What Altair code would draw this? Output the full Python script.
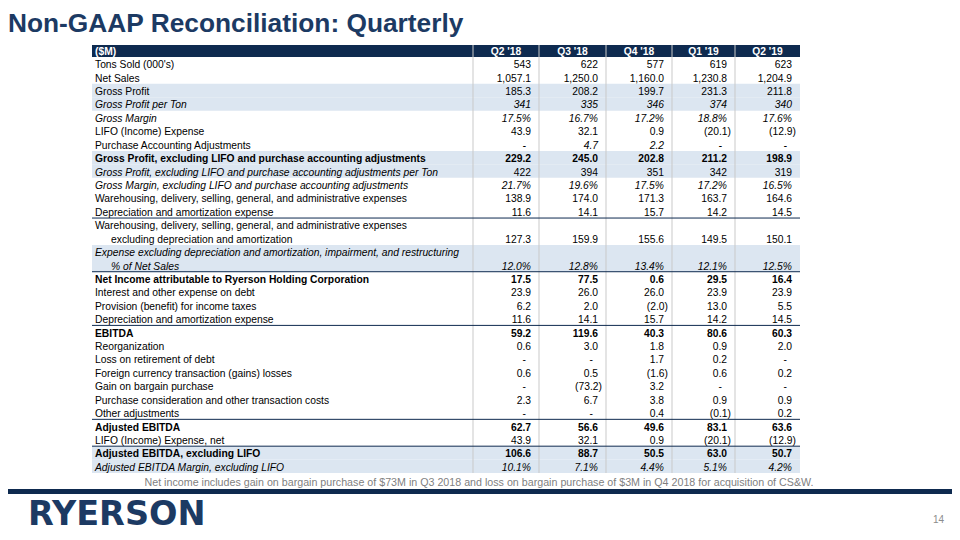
import altair as alt
import pandas as pd

# ---------------- data ----------------
title_text = "Non-GAAP Reconciliation: Quarterly"
unit_label = "($M)"
quarters = ["Q2 '18", "Q3 '18", "Q4 '18", "Q1 '19", "Q2 '19"]

row_labels = [
    ["Tons Sold (000's)"],
    ["Net Sales"],
    ["Gross Profit"],
    ["Gross Profit per Ton"],
    ["Gross Margin"],
    ["LIFO (Income) Expense"],
    ["Purchase Accounting Adjustments"],
    ["Gross Profit, excluding LIFO and purchase accounting adjustments"],
    ["Gross Profit, excluding LIFO and purchase accounting adjustments per Ton"],
    ["Gross Margin, excluding LIFO and purchase accounting adjustments"],
    ["Warehousing, delivery, selling, general, and administrative expenses"],
    ["Depreciation and amortization expense"],
    ["Warehousing, delivery, selling, general, and administrative expenses",
     "excluding depreciation and amortization"],
    ["Expense excluding depreciation and amortization, impairment, and restructuring",
     "% of Net Sales"],
    ["Net Income attributable to Ryerson Holding Corporation"],
    ["Interest and other expense on debt"],
    ["Provision (benefit) for income taxes"],
    ["Depreciation and amortization expense"],
    ["EBITDA"],
    ["Reorganization"],
    ["Loss on retirement of debt"],
    ["Foreign currency transaction (gains) losses"],
    ["Gain on bargain purchase"],
    ["Purchase consideration and other transaction costs"],
    ["Other adjustments"],
    ["Adjusted EBITDA"],
    ["LIFO (Income) Expense, net"],
    ["Adjusted EBITDA, excluding LIFO"],
    ["Adjusted EBITDA Margin, excluding LIFO"],
]
# n = normal, b = bold, i = italic
label_style = ["n", "n", "n", "i", "i", "n", "n", "b", "i", "i", "n", "n", "n", "i",
               "b", "n", "n", "n", "b", "n", "n", "n", "n", "n", "n", "b", "n", "b", "i"]
value_style = ["n", "n", "n", "i", "i", "n", "i", "b", "n", "i", "n", "n", "n", "i",
               "b", "n", "n", "n", "b", "n", "n", "n", "n", "n", "n", "b", "n", "b", "i"]
shaded_rows = [2, 3, 7, 8, 13, 27, 28]
rule_after_rows = [11, 13, 17, 24, 26]

q2_18 = ["543", "1,057.1", "185.3", "341", "17.5%", "43.9", "-", "229.2", "422", "21.7%",
         "138.9", "11.6", "127.3", "12.0%", "17.5", "23.9", "6.2", "11.6", "59.2", "0.6",
         "-", "0.6", "-", "2.3", "-", "62.7", "43.9", "106.6", "10.1%"]
q3_18 = ["622", "1,250.0", "208.2", "335", "16.7%", "32.1", "4.7", "245.0", "394", "19.6%",
         "174.0", "14.1", "159.9", "12.8%", "77.5", "26.0", "2.0", "14.1", "119.6", "3.0",
         "-", "0.5", "(73.2)", "6.7", "-", "56.6", "32.1", "88.7", "7.1%"]
q4_18 = ["577", "1,160.0", "199.7", "346", "17.2%", "0.9", "2.2", "202.8", "351", "17.5%",
         "171.3", "15.7", "155.6", "13.4%", "0.6", "26.0", "(2.0)", "15.7", "40.3", "1.8",
         "1.7", "(1.6)", "3.2", "3.8", "0.4", "49.6", "0.9", "50.5", "4.4%"]
q1_19 = ["619", "1,230.8", "231.3", "374", "18.8%", "(20.1)", "-", "211.2", "342", "17.2%",
         "163.7", "14.2", "149.5", "12.1%", "29.5", "23.9", "13.0", "14.2", "80.6", "0.9",
         "0.2", "0.6", "-", "0.9", "(0.1)", "83.1", "(20.1)", "63.0", "5.1%"]
q2_19 = ["623", "1,204.9", "211.8", "340", "17.6%", "(12.9)", "-", "198.9", "319", "16.5%",
         "164.6", "14.5", "150.1", "12.5%", "16.4", "23.9", "5.5", "14.5", "60.3", "2.0",
         "-", "0.2", "-", "0.9", "0.2", "63.6", "(12.9)", "50.7", "4.2%"]
columns = [q2_18, q3_18, q4_18, q1_19, q2_19]

footnote = ("Net income includes gain on bargain purchase of $73M in Q3 2018 and loss on "
            "bargain purchase of $3M in Q4 2018 for acquisition of CS&W.")
logo_text = "RYERSON"
page_number = "14"

# ---------------- layout (style) ----------------
W, H = 944, 524
FONT = "Liberation Sans"
NAVY = "#0E2A4F"
TITLE_NAVY = "#1C3A63"
SHADE = "#DCE6F1"
GRID = "#C9C9C9"
TABLE_LEFT = 92
COL_EDGES = [473, 539, 606, 672, 735, 800]
HEAD_TOP, HEAD_BOTTOM = 45, 57
UNIT = 13.42
FS = 10.3
TEXT_DY = 1.5

xs = alt.Scale(domain=[8, 8 + W], nice=False, zero=False)
ys = alt.Scale(domain=[8, 8 + H], nice=False, zero=False, reverse=True)
X = lambda f: alt.X(f, type="quantitative", scale=xs, axis=None)
Y = lambda f: alt.Y(f, type="quantitative", scale=ys, axis=None)

# row geometry
rows = []
top = HEAD_BOTTOM
for i, lab in enumerate(row_labels):
    n = len(lab)
    rows.append({"i": i, "top": top, "bottom": top + n * UNIT, "n": n})
    top += n * UNIT
TABLE_BOTTOM = top

label_recs, value_recs = [], []
for r in rows:
    i = r["i"]
    lab = row_labels[i]
    for k, line in enumerate(lab):
        label_recs.append({"x": TABLE_LEFT + 3 + (16 if k > 0 else 0),
                           "y": r["top"] + (k + 0.5) * UNIT + TEXT_DY,
                           "t": line, "s": label_style[i]})
    vy = r["top"] + (r["n"] - 0.5) * UNIT + TEXT_DY
    for j, col in enumerate(columns):
        v = col[i]
        right = COL_EDGES[j + 1]
        if v.endswith(")"):
            x = right - 4
        elif v == "-":
            x = right - 13
        else:
            x = right - 8
        value_recs.append({"x": x, "y": vy, "t": v, "s": value_style[i]})
labels_df = pd.DataFrame(label_recs)
values_df = pd.DataFrame(value_recs)


def text_layer(df, style, align, color="#000000", size=FS):
    sub = df[df["s"] == style]
    kw = dict(align=align, baseline="middle", font=FONT, fontSize=size, color=color)
    if style == "b":
        kw["fontWeight"] = "bold"
    if style == "i":
        kw["fontStyle"] = "italic"
    return alt.Chart(sub).mark_text(**kw).encode(x=X("x"), y=Y("y"), text="t:N")


layers = []

# shaded rows
shade_df = pd.DataFrame([{"x": TABLE_LEFT, "x2": COL_EDGES[-1],
                          "y": rows[i]["top"], "y2": rows[i]["bottom"]} for i in shaded_rows])
layers.append(alt.Chart(shade_df).mark_rect(color=SHADE).encode(
    x=X("x"), x2="x2", y=Y("y"), y2="y2"))

# header band
head_df = pd.DataFrame([{"x": TABLE_LEFT, "x2": COL_EDGES[-1], "y": HEAD_TOP, "y2": HEAD_BOTTOM}])
layers.append(alt.Chart(head_df).mark_rect(color=NAVY).encode(
    x=X("x"), x2="x2", y=Y("y"), y2="y2"))

# vertical separators
vsep_df = pd.DataFrame([{"x": e, "y": HEAD_TOP, "y2": TABLE_BOTTOM} for e in COL_EDGES[:-1]])
layers.append(alt.Chart(vsep_df).mark_rule(color=GRID, strokeWidth=1).encode(
    x=X("x"), y=Y("y"), y2="y2"))

# horizontal rules
hr_df = pd.DataFrame([{"x": TABLE_LEFT, "x2": COL_EDGES[-1], "y": rows[i]["bottom"]}
                      for i in rule_after_rows])
layers.append(alt.Chart(hr_df).mark_rule(color=NAVY, strokeWidth=1).encode(
    x=X("x"), x2="x2", y=Y("y")))

# header texts
hdr_left = pd.DataFrame([{"x": TABLE_LEFT + 3, "y": (HEAD_TOP + HEAD_BOTTOM) / 2 + 1, "t": unit_label}])
layers.append(alt.Chart(hdr_left).mark_text(align="left", baseline="middle", font=FONT,
                                            fontSize=FS, fontWeight="bold", color="white").encode(
    x=X("x"), y=Y("y"), text="t:N"))
hdr_q = pd.DataFrame([{"x": (COL_EDGES[j] + COL_EDGES[j + 1]) / 2,
                       "y": (HEAD_TOP + HEAD_BOTTOM) / 2 + 1, "t": q} for j, q in enumerate(quarters)])
layers.append(alt.Chart(hdr_q).mark_text(align="center", baseline="middle", font=FONT,
                                         fontSize=FS, fontWeight="bold", color="white").encode(
    x=X("x"), y=Y("y"), text="t:N"))

# body text
for s in ["n", "b", "i"]:
    layers.append(text_layer(labels_df, s, "left"))
    layers.append(text_layer(values_df, s, "right"))

# title
title_df = pd.DataFrame([{"x": 8, "y": 32, "t": title_text}])
layers.append(alt.Chart(title_df).mark_text(align="left", baseline="alphabetic", font=FONT,
                                            fontSize=26.3, fontWeight="bold", color=TITLE_NAVY).encode(
    x=X("x"), y=Y("y"), text="t:N"))

# footnote
foot_df = pd.DataFrame([{"x": 479, "y": 483, "t": footnote}])
layers.append(alt.Chart(foot_df).mark_text(align="center", baseline="middle", font=FONT,
                                           fontSize=10.7, color="#7F7F7F").encode(
    x=X("x"), y=Y("y"), text="t:N"))

# bottom band
band_df = pd.DataFrame([{"x": 8, "x2": 8 + W, "y": 489, "y2": 494}])
layers.append(alt.Chart(band_df).mark_rect(color=NAVY).encode(
    x=X("x"), x2="x2", y=Y("y"), y2="y2"))

# logo
logo_df = pd.DataFrame([{"x": 28, "y": 524.5, "t": logo_text}])
layers.append(alt.Chart(logo_df).mark_text(align="left", baseline="alphabetic", font="DejaVu Sans",
                                           fontSize=33.5, fontWeight="bold", color=TITLE_NAVY).encode(
    x=X("x"), y=Y("y"), text="t:N"))

# page number
pn_df = pd.DataFrame([{"x": 944, "y": 520, "t": page_number}])
layers.append(alt.Chart(pn_df).mark_text(align="right", baseline="middle", font=FONT,
                                         fontSize=10, color="#8C8C8C").encode(
    x=X("x"), y=Y("y"), text="t:N"))

chart = alt.layer(*layers).properties(
    width=W, height=H, padding=0, autosize=alt.AutoSizeParams(type="none")
).configure_view(stroke=None)

chart.save("out.html", embed_options={"renderer": "svg", "actions": False})
